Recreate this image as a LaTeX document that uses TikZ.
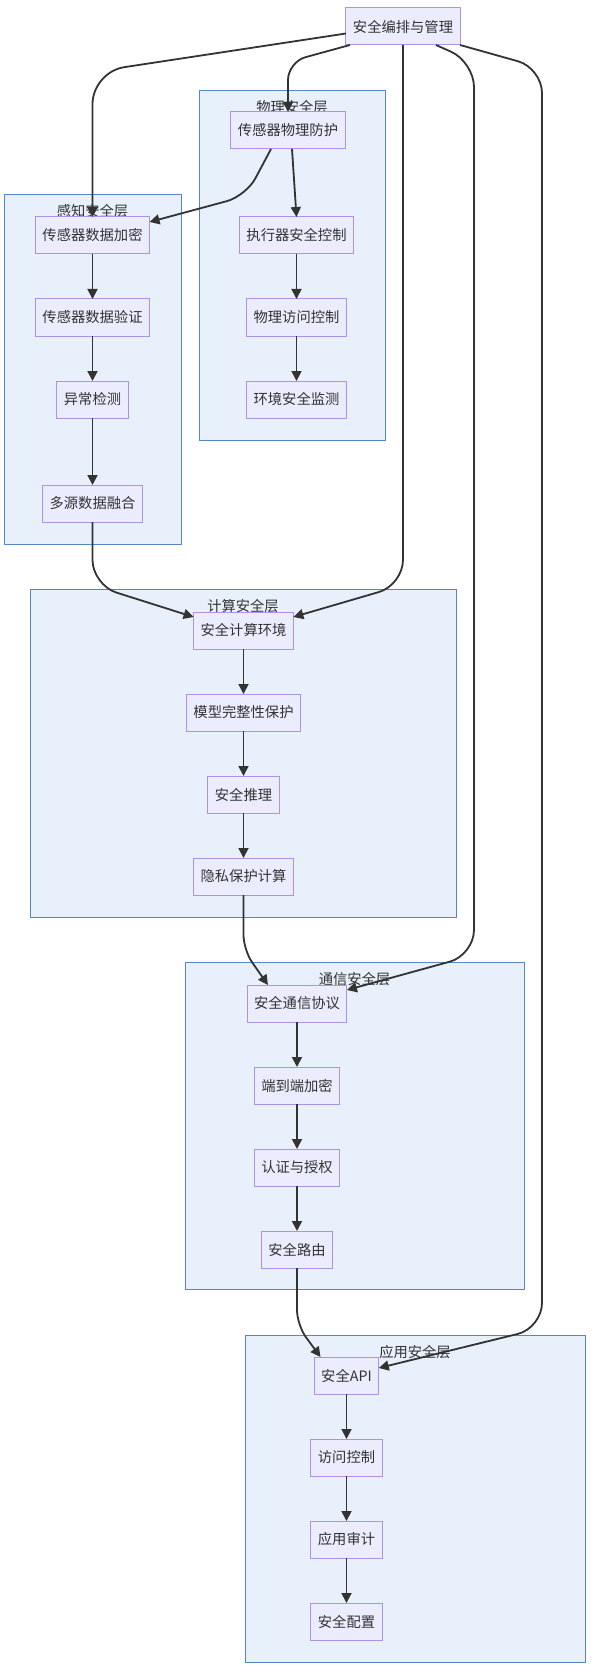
\documentclass[tikz,border=0pt]{standalone}
\usepackage{fontspec}
\setmainfont{Noto Sans CJK SC}
\usetikzlibrary{positioning,arrows.meta}
\definecolor{ndfill}{HTML}{ECECFF}
\definecolor{ndline}{HTML}{AD92E6}
\definecolor{grpfill}{HTML}{E8F0FB}
\definecolor{grpline}{HTML}{5686C4}
\definecolor{ink}{HTML}{333333}
\tikzset{
  nd/.style={draw=ndline, fill=ndfill, line width=1pt, minimum height=37pt, inner xsep=7pt, inner ysep=0pt, outer sep=0pt, text=ink},
  grp/.style={draw=grpline, fill=grpfill, line width=0.9pt},
  glbl/.style={text=ink, inner sep=0pt},
  arr/.style={draw=ink, line width=1.8pt, -{Triangle[length=10pt,width=10pt]}}}
\begin{document}
\begin{tikzpicture}[x=1pt, y=1pt, font=\fontsize{14.3}{17}\selectfont, node distance=45pt]
\useasboundingbox (0,0) rectangle (594,-1669);
% layers
\draw[grp] (199,-90) rectangle (385,-440);
\node[glbl] (phyL) at (292,-107) {物理安全层};
\draw[grp] (4,-194) rectangle (181,-544);
\node[glbl] (perL) at (92.5,-211) {感知安全层};
\draw[grp] (30,-589) rectangle (456,-917);
\node[glbl] (cmpL) at (243,-606) {计算安全层};
\draw[grp] (185,-962) rectangle (524,-1289);
\node[glbl] (comL) at (354.5,-979) {通信安全层};
\draw[grp] (245,-1335) rectangle (585,-1662);
\node[glbl] (appL) at (415,-1352) {应用安全层};
% nodes
\node[nd] (mgr) at (403,-26.5) {安全编排与管理};
\node[nd] (phy1) at (288,-130.5) {传感器物理防护};
\node[nd] (phy2) at (296.5,-235.5) {执行器安全控制};
\node[nd, below=of phy2] (phy3) {物理访问控制};
\node[nd, below=of phy3] (phy4) {环境安全监测};
\node[nd] (per1) at (92.5,-235.5) {传感器数据加密};
\node[nd, below=of per1] (per2) {传感器数据验证};
\node[nd, below=of per2] (per3) {异常检测};
\node[nd, below=67pt of per3] (per4) {多源数据融合};
\node[nd] (cmp1) at (243.5,-630.5) {安全计算环境};
\node[nd, below=of cmp1] (cmp2) {模型完整性保护};
\node[nd, below=of cmp2] (cmp3) {安全推理};
\node[nd, below=of cmp3] (cmp4) {隐私保护计算};
\node[nd] (com1) at (297,-1003.5) {安全通信协议};
\node[nd, below=of com1] (com2) {端到端加密};
\node[nd, below=of com2] (com3) {认证与授权};
\node[nd, below=of com3] (com4) {安全路由};
\node[nd] (app1) at (346.5,-1375.5) {安全API};
\node[nd, below=of app1] (app2) {访问控制};
\node[nd, below=of app2] (app3) {应用审计};
\node[nd, below=of app3] (app4) {安全配置};
% flows inside each layer
\foreach \a/\b in {per1/per2, per2/per3, per3/per4, phy2/phy3, phy3/phy4, cmp1/cmp2, cmp2/cmp3, cmp3/cmp4, com1/com2, com2/com3, com3/com4, app1/app2, app2/app3, app3/app4}
  \draw[arr] (\a) -- (\b);
\draw[arr] ([xshift=4pt]phy1.south) -- (phy2.north);
% flows between layers
\draw[arr, rounded corners=32pt] ([yshift=-7pt]mgr.west) -- (per1.north |- 0,-72) -- (per1.north);
\draw[arr, rounded corners=18pt] ([xshift=4pt]mgr.south west) -- (phy1.north |- 0,-62) -- (phy1.north);
\draw[arr, rounded corners=25pt] (mgr.south) -- (mgr.south |- 0,-585) -- ([yshift=-5pt]cmp1.north east);
\draw[arr, rounded corners=25pt] ([xshift=33pt]mgr.south) -- (474,-62) -- (474,-955) -- ([yshift=-5pt]com1.north east);
\draw[arr, rounded corners=25pt] (mgr.south east) -- (542,-68) -- (542,-1328) -- ([yshift=-11pt]app1.north east);
\draw[arr, rounded corners=20pt] ([xshift=-17pt]phy1.south) -- (246,-196) -- ([yshift=-5pt]per1.north east);
\draw[arr, rounded corners=25pt] (per4.south) -- (per4.south |- 0,-585) -- ([yshift=-5pt]cmp1.north west);
\draw[arr, rounded corners=15pt] (cmp4.south) -- (cmp4.south |- 0,-950) -- ([xshift=-29pt]com1.north);
\draw[arr, rounded corners=15pt] (com4.south) -- (com4.south |- 0,-1325) -- ([xshift=-26pt]app1.north);
\end{tikzpicture}
\end{document}
